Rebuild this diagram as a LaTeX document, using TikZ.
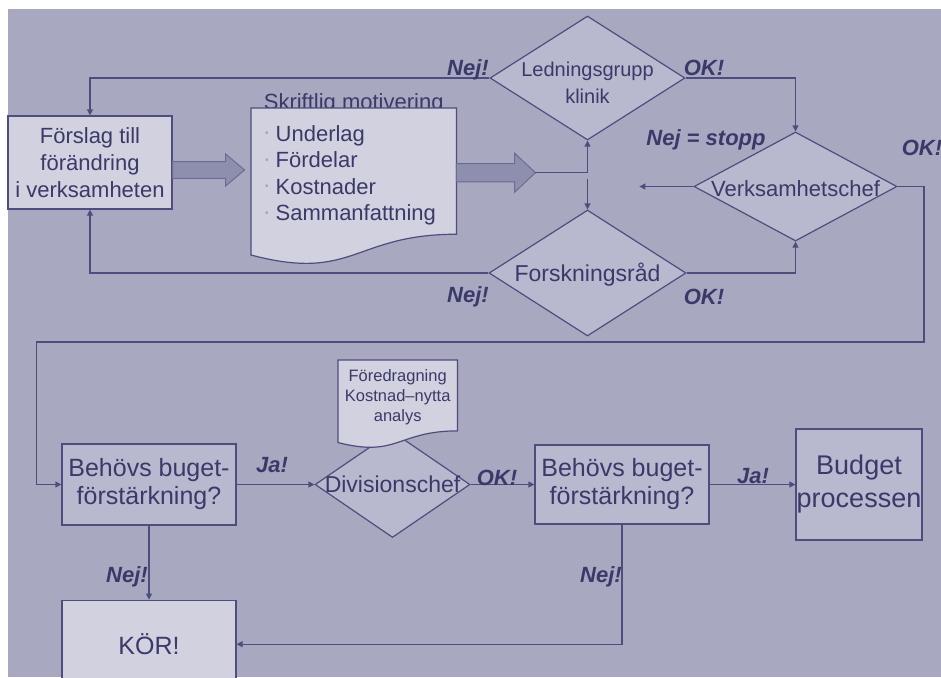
\documentclass[tikz,border=0pt]{standalone}
\usepackage{fontspec}
\setmainfont{Liberation Sans}
\usetikzlibrary{arrows.meta,positioning,calc,shapes.geometric}

\definecolor{bgcol}{HTML}{A8A8C0}
\definecolor{boxlight}{HTML}{D1D1DF}
\definecolor{boxmid}{HTML}{B8B8CE}
\definecolor{linecol}{HTML}{4E4E7E}
\definecolor{txtcol}{HTML}{3A3A6A}
\definecolor{fatfill}{HTML}{8E8EAE}
\definecolor{fatline}{HTML}{6C6C92}
\definecolor{dotcol}{HTML}{A4A4BC}

\newcommand{\fsz}[2]{\fontsize{#1}{#2}\selectfont}
\newcommand{\punkt}{\raisebox{4.5pt}{\color{dotcol}\fsz{10}{10}\textbullet}\hspace{7pt}}

\begin{document}
\begin{tikzpicture}[x=1pt, y=-1pt, >={Triangle[length=6pt,width=6pt]},
  every node/.style={text=txtcol},
  lightbox/.style={draw=linecol, line width=1.2pt, fill=boxlight, inner sep=0pt, align=center},
  midbox/.style={draw=linecol, line width=1.2pt, fill=boxmid, inner sep=0pt, align=center},
  choice/.style={diamond, draw=linecol, line width=1.2pt, fill=boxmid, inner sep=0pt},
  conn/.style={draw=linecol, line width=1.2pt, ->},
  answer/.style={font=\fsz{22}{24}\bfseries\itshape, anchor=base, inner sep=0pt},
  fat/.style={fill=fatfill, draw=fatline, line width=1pt},
  paper/.style={fill=boxlight, draw=linecol, line width=1.2pt}]
  \useasboundingbox (0,0) rectangle (941,677);
  \fill[bgcol] (8,9) rectangle (941,677);

  % upper part
  \node[lightbox, minimum width=164pt, minimum height=93pt, font=\fsz{22}{27}]
       (forslag) at (90,162.5) {Förslag till\\förändring\\i verksamheten};
  \node[minimum width=205pt, minimum height=157pt, inner sep=0pt, anchor=north west]
       (motiv) at (251,108) {};
  \node[font=\fsz{22}{24}, anchor=base, inner sep=0pt] (rubrik)
       at ($(motiv.north)+(0,1)$) {Skriftlig motivering};
  \filldraw[paper] (motiv.north west) -- (motiv.north east)
    -- ($(motiv.north east)!0.802!(motiv.south east)$)
    .. controls ($(motiv.north)!0.802!(motiv.south)$) and ($(motiv.north)!1.107!(motiv.south)$)
    .. ($(motiv.north west)!0.934!(motiv.south west)$) -- cycle;
  \node[anchor=north west, align=left, inner sep=0pt, font=\fsz{22}{26.5}] (punkter)
       at ($(motiv.north west)+(14,17)$)
       {\punkt Underlag\\\punkt Fördelar\\\punkt Kostnader\\\punkt Sammanfattning};

  \coordinate (fa1) at ($(forslag.east)+(0,7.5)$);
  \begin{scope}[shift={(fa1)}]
    \filldraw[fat] (0,-8.3) -- (53,-8.3) -- (53,-16) -- (72,0) -- (53,16) -- (53,8.3) -- (0,8.3) -- cycle;
  \end{scope}
  \coordinate (fa2) at ($(motiv.east)+(0,-14)$);
  \begin{scope}[shift={(fa2)}]
    \filldraw[fat] (0,-9.2) -- (58.3,-9.2) -- (58.3,-19.5) -- (79,0) -- (58.3,19.5) -- (58.3,9.2) -- (0,9.2) -- cycle;
  \end{scope}
  \coordinate (fa2tip) at ($(fa2)+(79,0)$);

  \node[choice, minimum width=195pt, minimum height=124pt,
        label={[font=\fsz{20}{27}, align=center, yshift=-5pt]center:{Ledningsgrupp\\klinik}}]
       (led) at (587.5,78) {};
  \node[choice, minimum width=197pt, minimum height=126pt,
        label={[font=\fsz{23}{25}, yshift=-2pt]center:Forskningsråd}]
       (fors) at (587.5,273) {};
  \node[choice, minimum width=203pt, minimum height=109pt,
        label={[font=\fsz{22}{24}, yshift=-2pt]center:Verksamhetschef}]
       (verk) at (795.5,186.5) {};
  \coordinate (delning) at (led.south |- fa2tip);
  \coordinate (stopp) at ($(verk.west)+(-54,0)$);
  \coordinate (retur) at (924,342);

  \draw[conn] (led.west) -| (forslag.north);
  \draw[conn] (fors.west) -| (forslag.south);
  \draw[conn] (led.east) -| (verk.north);
  \draw[conn] (fors.east) -| (verk.south);
  \draw[conn] (fa2tip) -| (led.south);
  \draw[conn] ($(delning)+(0,6)$) -- (fors.north);
  \draw[conn] (verk.west) -- (stopp);

  \node[answer] (nejL) at (468,75) {Nej!};
  \node[answer] (okL) at (704,75) {OK!};
  \node[answer] (nejS) at (706,145) {Nej = stopp};
  \node[answer] (okV) at (922,155) {OK!};
  \node[answer] (nejF) at (468,302) {Nej!};
  \node[answer] (okF) at (704,304) {OK!};

  % lower part
  \node[midbox, minimum width=174pt, minimum height=81pt, font=\fsz{25}{28}]
       (beh1) at (149,484.5) {Behövs buget-\\förstärkning?};
  \node[lightbox, minimum width=174pt, minimum height=88pt, font=\fsz{25}{28},
        below=74pt of beh1] (kor) {KÖR!};
  \node[choice, minimum width=155pt, minimum height=106pt,
        label={[font=\fsz{23}{25}]center:Divisionschef}]
       (div) at (392.5,484.5) {};
  \node[minimum width=119pt, minimum height=88pt, inner sep=0pt, anchor=north west]
       (foredr) at (338,360) {};
  \filldraw[paper] (foredr.north west) -- (foredr.north east)
    -- ($(foredr.north east)!0.802!(foredr.south east)$)
    .. controls ($(foredr.north)!0.802!(foredr.south)$) and ($(foredr.north)!1.107!(foredr.south)$)
    .. ($(foredr.north west)!0.934!(foredr.south west)$) -- cycle;
  \node[anchor=north, align=center, inner sep=0pt, font=\fsz{16.5}{20}] (analys)
       at ($(foredr.north)+(0,9.5)$) {Föredragning\\Kostnad–nytta\\analys};
  \node[midbox, minimum width=174pt, minimum height=79pt, font=\fsz{25}{28}]
       (beh2) at (622,484.5) {Behövs buget-\\förstärkning?};
  \node[midbox, minimum width=126pt, minimum height=111pt, font=\fsz{27}{33}]
       (budget) at (859,484.5) {Budget\\processen};

  \draw[conn] (verk.east) -| (retur) -| ($(beh1.west)+(-25,0)$) -- (beh1.west);
  \draw[conn] (beh1.east) -- (div.west);
  \draw[conn] (div.east) -- (beh2.west);
  \draw[conn] (beh2.east) -- (budget.west);
  \draw[conn] (beh1.south) -- (kor.north);
  \draw[conn] (beh2.south) |- (kor.east);

  \node[answer] (ja1) at (272,472) {Ja!};
  \node[answer] (nej1) at (127,582) {Nej!};
  \node[answer] (okD) at (497,485) {OK!};
  \node[answer] (ja2) at (753,483) {Ja!};
  \node[answer] (nej2) at (601,582) {Nej!};
\end{tikzpicture}
\end{document}
